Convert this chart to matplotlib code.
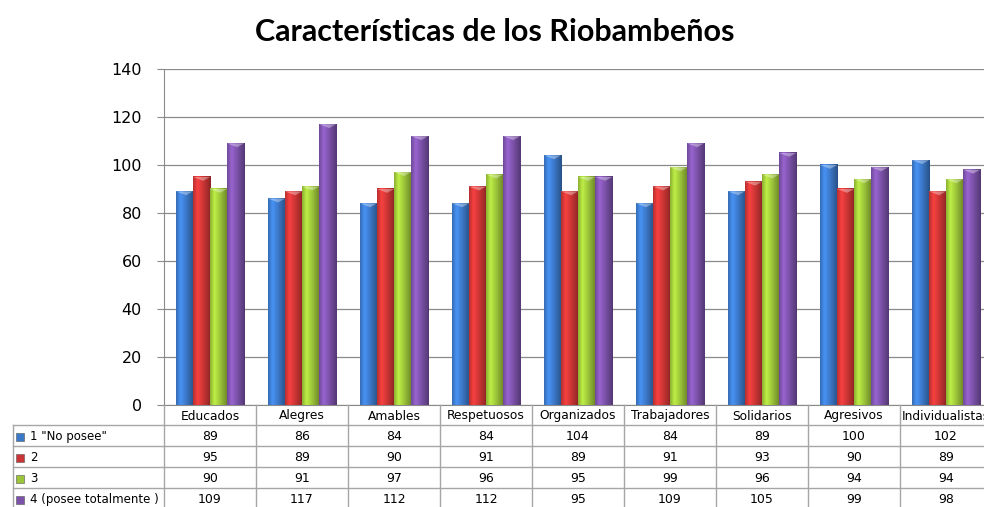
import numpy as np
import matplotlib
matplotlib.use('Agg')
import matplotlib.pyplot as plt
from matplotlib.colors import to_rgb

# datos
categorias = ['Educados', 'Alegres', 'Amables', 'Respetuosos', 'Organizados',
              'Trabajadores', 'Solidarios', 'Agresivos', 'Individualistas']
series = ['1 "No posee"', '2', '3', '4 (posee totalmente )']
no_posee = [89, 86, 84, 84, 104, 84, 89, 100, 102]
dos = [95, 89, 90, 91, 89, 91, 93, 90, 89]
tres = [90, 91, 97, 96, 95, 99, 96, 94, 94]
posee_tot = [109, 117, 112, 112, 95, 109, 105, 99, 98]
yticks = [0, 20, 40, 60, 80, 100, 120, 140]

valores = [no_posee, dos, tres, posee_tot]
colores = ['#3b78c8', '#cc3535', '#9cc43a', '#7c52aa']

W, H = 984, 507
fig = plt.figure(figsize=(W / 100, H / 100), dpi=100)

# ejes principales (el grafico original esta recortado a la derecha)
x_left, x_right = 164, 992
y_top, y_base = 69, 405
ax = fig.add_axes([x_left / W, 1 - y_base / H, (x_right - x_left) / W, (y_base - y_top) / H])

n = len(categorias)
x = np.arange(n)
ancho = 0.185

perfil_t = np.linspace(0, 1, 40)
perfil = np.interp(perfil_t, [0, 0.25, 0.5, 1], [0.9, 1.22, 1.05, 0.68])

for i, (vals, col) in enumerate(zip(valores, colores)):
    pos = x + (i - 1.5) * ancho
    ax.bar(pos, vals, width=ancho, color=col, zorder=2)
    base = np.array(to_rgb(col))
    img = np.clip(perfil[:, None] * base[None, :], 0, 1)[None, :, :]
    for p, v in zip(pos, vals):
        ax.imshow(img, extent=(p - ancho / 2, p + ancho / 2, 0, v),
                  aspect='auto', zorder=3, interpolation='bilinear')
        # brillo en la parte superior
        ax.fill([p - ancho / 2, p + ancho / 2, p + ancho * 0.1],
                [v, v, v - 1.6], color='white', alpha=0.35, lw=0, zorder=4)

ax.set_xlim(-0.5, n - 0.5)
ax.set_ylim(0, 140)
ax.set_yticks(yticks)
ax.set_xticks([])
ax.yaxis.grid(True, color='#8a8a8a', lw=0.9, zorder=0)
ax.set_axisbelow(True)
for s in ['top', 'right']:
    ax.spines[s].set_visible(False)
ax.spines['left'].set_color('#8a8a8a')
ax.spines['bottom'].set_color('#8a8a8a')
ax.tick_params(axis='y', length=5, color='#8a8a8a', labelsize=11.5, pad=11)

# tabla de datos
tab = fig.add_axes([x_left / W, -2 / H, (x_right - x_left) / W, 104 / H])
tab.set_xlim(-0.5, n - 0.5)
tab.set_ylim(509, 405)
tab.axis('off')

filas = [405, 425, 446, 467, 488, 509]
col_izq = -0.5 - (x_left - 13) / ((x_right - x_left) / n)
gris = '#a6a6a6'

for xb in np.arange(n + 1) - 0.5:
    tab.plot([xb, xb], [filas[0], filas[-1]], color=gris, lw=1, clip_on=False)
tab.plot([col_izq, col_izq], [filas[1], filas[-1]], color=gris, lw=1, clip_on=False)
for yb in filas[1:-1]:
    tab.plot([col_izq, n - 0.5], [yb, yb], color=gris, lw=1, clip_on=False)

for j, c in enumerate(categorias):
    tab.text(j, (filas[0] + filas[1]) / 2 + 1, c, ha='center', va='center', fontsize=8.8, clip_on=False)

for i, (nombre, vals, col) in enumerate(zip(series, valores, colores)):
    yc = (filas[i + 1] + filas[i + 2]) / 2 + 1
    tab.plot([col_izq + 0.08], [yc], marker='s', ms=6, color=col, mec='#555555', mew=0.4, clip_on=False)
    tab.text(col_izq + 0.19, yc, nombre, ha='left', va='center', fontsize=8.5, clip_on=False)
    for j, v in enumerate(vals):
        tab.text(j, yc, str(v), ha='center', va='center', fontsize=9, clip_on=False)

fig.text(495 / W, 1 - 32 / H, 'Características de los Riobambeños',
         ha='center', va='center', fontsize=22, fontweight='bold', family=['Lato', 'DejaVu Sans'])

fig.savefig('out.png', dpi=100)
